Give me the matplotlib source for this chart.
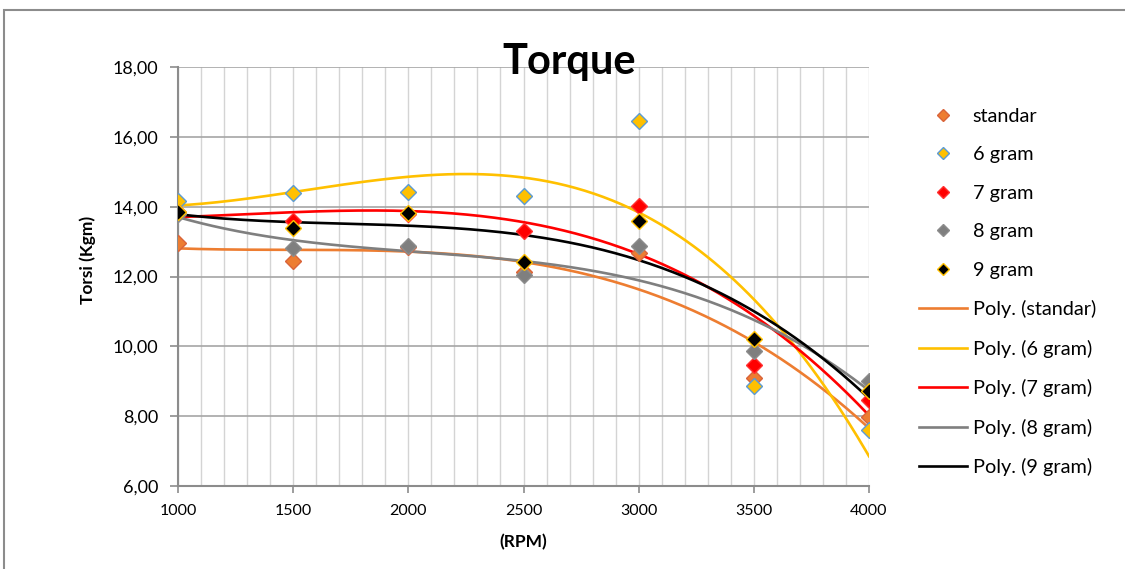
import matplotlib
matplotlib.use('Agg')
import matplotlib.pyplot as plt
from matplotlib.ticker import FuncFormatter, MultipleLocator
from matplotlib.patches import Rectangle
import numpy as np

plt.rcParams['font.family'] = ['Lato', 'DejaVu Sans']

# data
rpm = [1000, 1500, 2000, 2500, 3000, 3500, 4000]
standar = [12.95, 12.45, 12.85, 12.12, 12.67, 9.09, 7.98]
gram6 = [14.17, 14.38, 14.41, 14.31, 16.45, 8.86, 7.60]
gram7 = [13.85, 13.60, 13.80, 13.31, 14.02, 9.47, 8.46]
gram8 = [13.80, 12.82, 12.88, 12.04, 12.88, 9.87, 9.00]
gram9 = [13.84, 13.38, 13.81, 12.41, 13.60, 10.21, 8.72]

labels = ["standar", "6 gram", "7 gram", "8 gram", "9 gram"]
face_colors = ["#ED7D31", "#FFC000", "#FF0000", "#7F7F7F", "#000000"]
edge_colors = ["#D9643A", "#5B9BD5", "#FF3030", "#8C8C8C", "#FFC000"]
line_colors = ["#ED7D31", "#FFC000", "#FF0000", "#7F7F7F", "#000000"]

series = [standar, gram6, gram7, gram8, gram9]

fig = plt.figure(figsize=(11.25, 5.69), dpi=100)
ax = fig.add_axes([178/1125, 1-486/569, (869-178)/1125, (486-67)/569])

x = np.array(rpm)
xs = np.linspace(1000, 4000, 300)
scat_handles = []
line_handles = []
for i in range(len(series)):
    y = np.array(series[i])
    # trendline polinomial
    coef = np.polyfit(x, y, 3)
    ln, = ax.plot(xs, np.polyval(coef, xs), color=line_colors[i], lw=1.9, zorder=3)
    line_handles.append(ln)
for i in range(len(series)):
    sc, = ax.plot(rpm, series[i], linestyle='none', marker='D', markersize=8.5,
                  markerfacecolor=face_colors[i], markeredgecolor=edge_colors[i],
                  markeredgewidth=1.0, zorder=4)
    scat_handles.append(sc)

ax.set_xlim(1000, 4000)
ax.set_ylim(6, 18)
ax.xaxis.set_major_locator(MultipleLocator(500))
ax.xaxis.set_minor_locator(MultipleLocator(100))
ax.yaxis.set_major_locator(MultipleLocator(2))
ax.yaxis.set_major_formatter(FuncFormatter(lambda v, p: f"{v:.2f}".replace('.', ',')))

ax.grid(which='minor', axis='x', color='#D4D4D4', lw=1.0)
ax.grid(which='major', axis='x', color='#D4D4D4', lw=1.0)
ax.grid(which='major', axis='y', color='#A6A6A6', lw=1.2)
ax.set_axisbelow(True)

for s in ['top', 'right']:
    ax.spines[s].set_visible(False)
for s in ['left', 'bottom']:
    ax.spines[s].set_color('#8C8C8C')
    ax.spines[s].set_linewidth(1.5)
ax.tick_params(axis='y', which='major', length=6, color='#8C8C8C', width=1.2, labelsize=13, pad=8)
ax.tick_params(axis='x', which='major', length=5, color='#8C8C8C', width=1.2, labelsize=11.5, pad=8)
ax.tick_params(axis='x', which='minor', length=0)

ax.set_ylabel("Torsi (Kgm)", fontsize=12.5, fontweight='bold', va='center')
ax.yaxis.set_label_coords(-0.13, 0.54)
ax.set_xlabel("(RPM)", fontsize=12.5, fontweight='bold', va='center')
ax.xaxis.set_label_coords(0.5, -0.134)

fig.text(569/1125, 1-62/569, "Torque", fontsize=30, fontweight='bold', ha='center', va='center')

fig.legend(scat_handles + line_handles,
           labels + ["Poly. (" + l + ")" for l in labels],
           loc='upper left', bbox_to_anchor=(919/1125, 1-108/569),
           frameon=False, fontsize=14.3, handlelength=2.4, handletextpad=0.3,
           labelspacing=1.08, borderaxespad=0, borderpad=0, markerscale=0.75)

# bingkai chart
fig.patches.append(Rectangle((4/1125, -0.2), 1.2, 1-10/569+0.2, transform=fig.transFigure,
                             fill=False, edgecolor='#8C8C8C', lw=1.5))

fig.savefig("out.png", dpi=100)
